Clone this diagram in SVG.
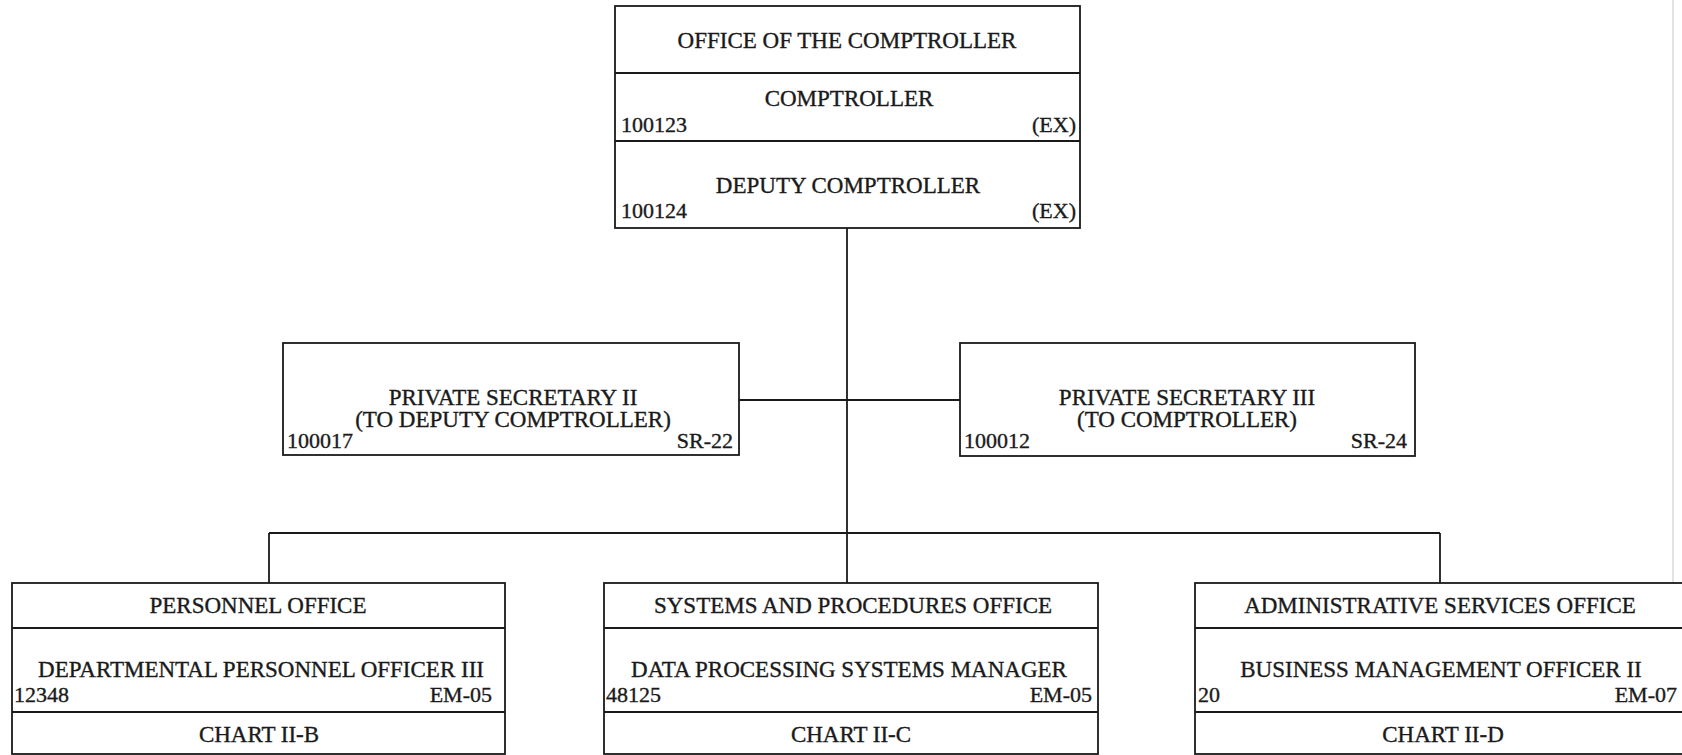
<svg xmlns="http://www.w3.org/2000/svg" width="1682" height="755" viewBox="0 0 1682 755">
<style>
.box{fill:#fff;stroke:#1a1a1a;stroke-width:1.8}
.div{stroke:#1a1a1a;stroke-width:1.8}
.ln{stroke:#1a1a1a;stroke-width:1.8;fill:none}
text{font-family:"Liberation Serif","Times New Roman",serif;fill:#1a1a1a;stroke:#1a1a1a;stroke-width:0.35}
.t{font-size:23px;text-anchor:middle}
.c{font-size:22px}
.r{font-size:22px;text-anchor:end}
</style>
<rect width="1682" height="755" fill="#fff"/>
<line x1="1673" y1="0" x2="1673" y2="755" stroke="#d0d0d0" stroke-width="1.2"/>
<g id="connectors">
<line class="ln" x1="847" y1="228" x2="847" y2="583"/>
<line class="ln" x1="739" y1="400" x2="960" y2="400"/>
<line class="ln" x1="269" y1="533" x2="1440" y2="533"/>
<line class="ln" x1="269" y1="533" x2="269" y2="583"/>
<line class="ln" x1="1440" y1="533" x2="1440" y2="583"/>
</g>
<g id="comptroller">
<rect class="box" x="615" y="6" width="465" height="222"/>
<line class="div" x1="615" y1="73" x2="1080" y2="73"/>
<line class="div" x1="615" y1="141" x2="1080" y2="141"/>
<text class="t" x="847" y="48">OFFICE OF THE COMPTROLLER</text>
<text class="t" x="849" y="106">COMPTROLLER</text>
<text class="c" x="621" y="132">100123</text>
<text class="r" x="1076" y="132">(EX)</text>
<text class="t" x="848" y="193">DEPUTY COMPTROLLER</text>
<text class="c" x="621" y="218">100124</text>
<text class="r" x="1076" y="218">(EX)</text>
</g>
<g id="ps2">
<rect class="box" x="283" y="343" width="456" height="112"/>
<text class="t" x="513" y="405">PRIVATE SECRETARY II</text>
<text class="t" x="513" y="427">(TO DEPUTY COMPTROLLER)</text>
<text class="c" x="287" y="448">100017</text>
<text class="r" x="733" y="448">SR-22</text>
</g>
<g id="ps3">
<rect class="box" x="960" y="343" width="455" height="113"/>
<text class="t" x="1187" y="405">PRIVATE SECRETARY III</text>
<text class="t" x="1187" y="427">(TO COMPTROLLER)</text>
<text class="c" x="964" y="448">100012</text>
<text class="r" x="1407" y="448">SR-24</text>
</g>
<g id="personnel">
<rect class="box" x="12" y="583" width="493" height="171"/>
<line class="div" x1="12" y1="628" x2="505" y2="628"/>
<line class="div" x1="12" y1="712" x2="505" y2="712"/>
<text class="t" x="258" y="613">PERSONNEL OFFICE</text>
<text class="t" x="261" y="677">DEPARTMENTAL PERSONNEL OFFICER III</text>
<text class="c" x="14" y="702">12348</text>
<text class="r" x="492" y="702">EM-05</text>
<text class="t" x="259" y="742">CHART II-B</text>
</g>
<g id="systems">
<rect class="box" x="604" y="583" width="494" height="171"/>
<line class="div" x1="604" y1="628" x2="1098" y2="628"/>
<line class="div" x1="604" y1="712" x2="1098" y2="712"/>
<text class="t" x="853" y="613">SYSTEMS AND PROCEDURES OFFICE</text>
<text class="t" x="849" y="677">DATA PROCESSING SYSTEMS MANAGER</text>
<text class="c" x="606" y="702">48125</text>
<text class="r" x="1092" y="702">EM-05</text>
<text class="t" x="851" y="742">CHART II-C</text>
</g>
<g id="admin">
<rect class="box" x="1195" y="583" width="500" height="171"/>
<line class="div" x1="1195" y1="628" x2="1695" y2="628"/>
<line class="div" x1="1195" y1="712" x2="1695" y2="712"/>
<text class="t" x="1440" y="613">ADMINISTRATIVE SERVICES OFFICE</text>
<text class="t" x="1441" y="677">BUSINESS MANAGEMENT OFFICER II</text>
<text class="c" x="1198" y="702">20</text>
<text class="r" x="1677" y="702">EM-07</text>
<text class="t" x="1443" y="742">CHART II-D</text>
</g>
</svg>
